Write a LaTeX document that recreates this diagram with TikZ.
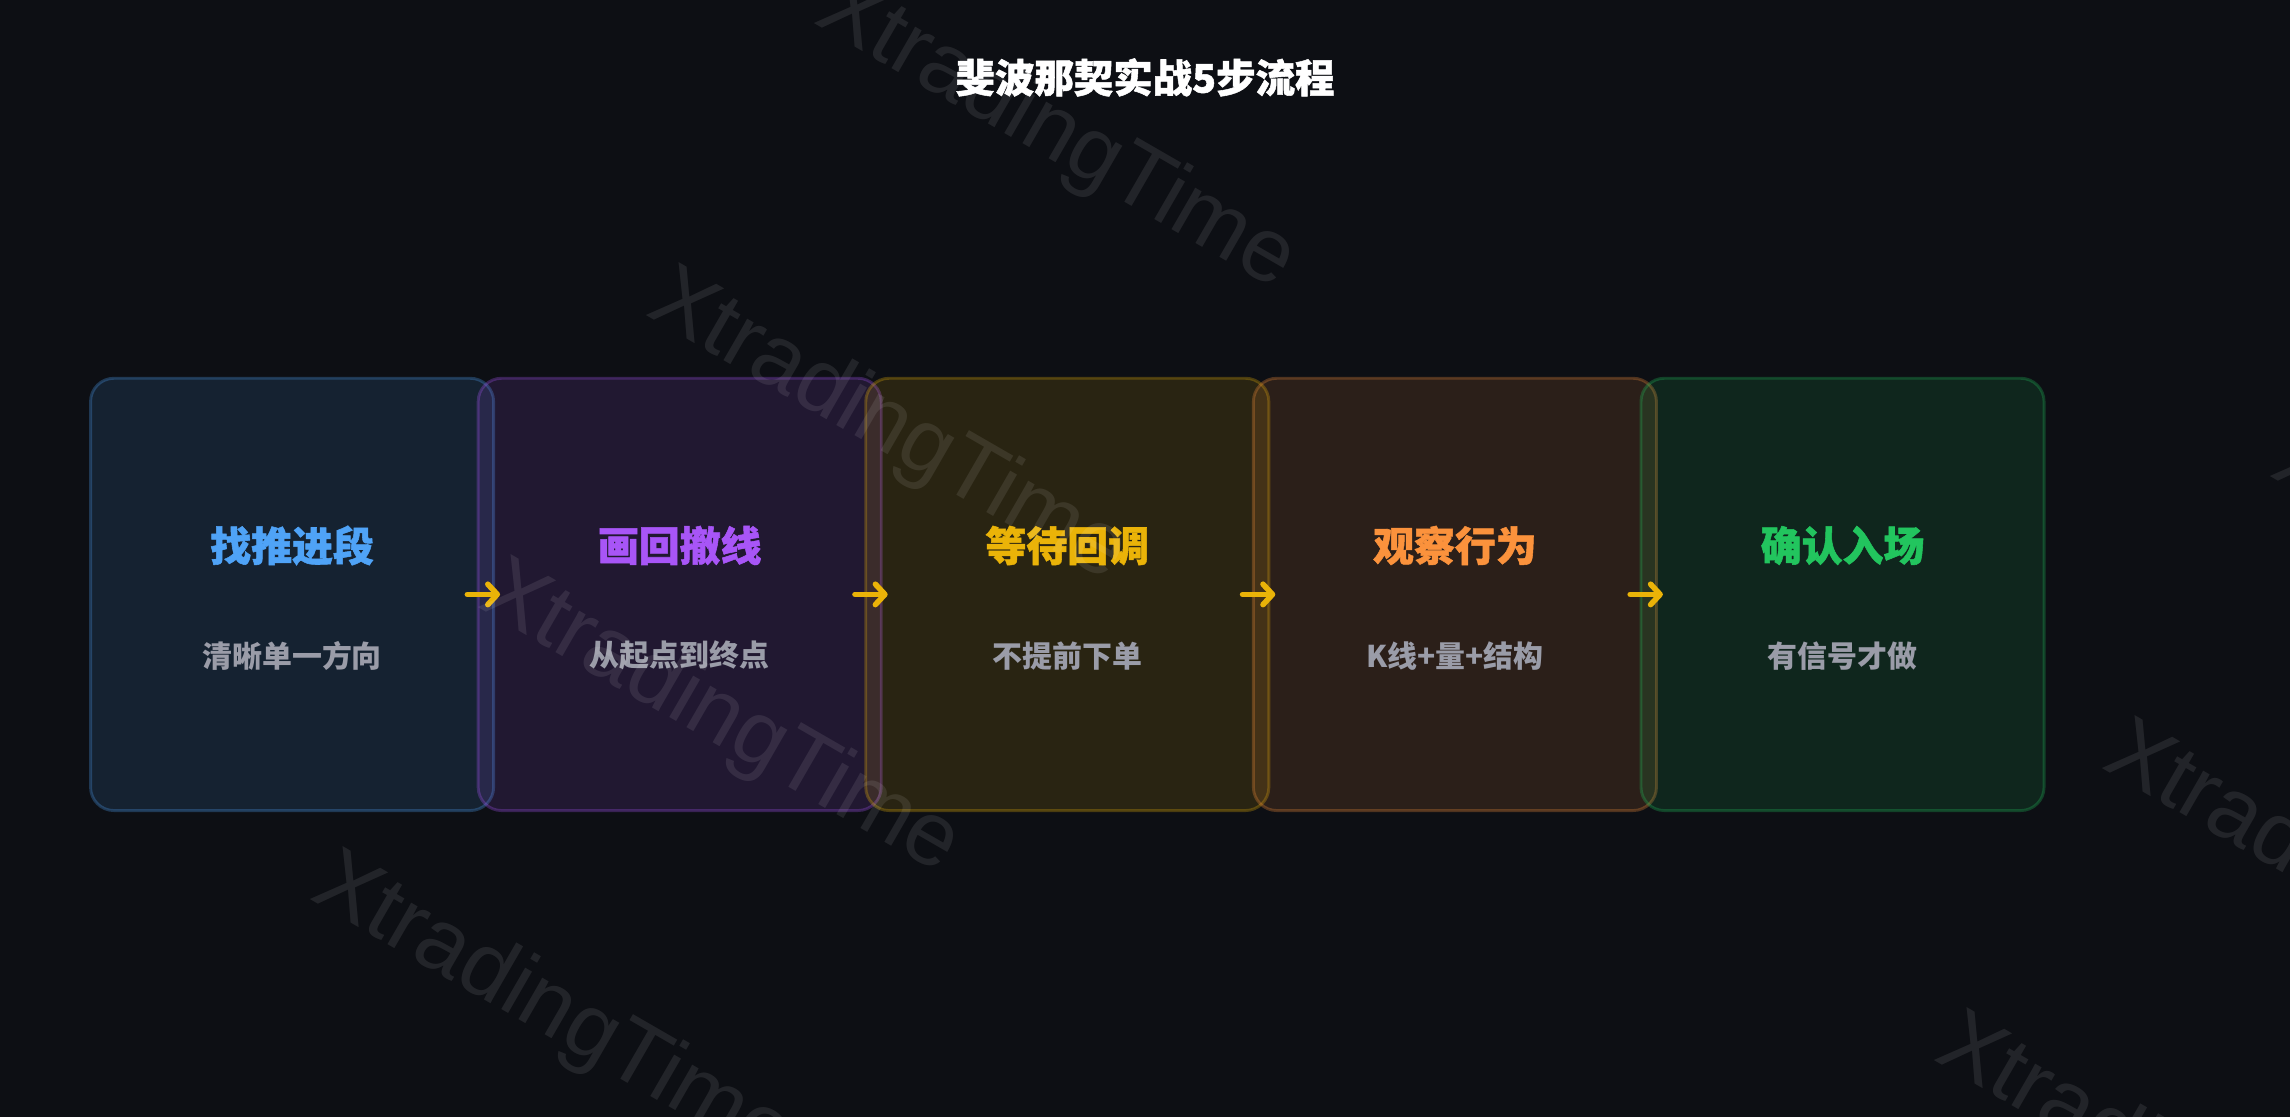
\documentclass[tikz,border=0pt]{standalone}
\usepackage{fontspec}
\newfontfamily\cjk{Noto Sans CJK SC}
\newfontfamily\cjkheavy{Noto Sans CJK SC}[BoldFeatures={FakeBold=1.3}]
\newfontfamily\wmfont{Liberation Sans}
\usetikzlibrary{arrows.meta}
\definecolor{bg}{HTML}{0D0F14}
\definecolor{cblue}{HTML}{4FA3F7}
\definecolor{cpurple}{HTML}{A855F7}
\definecolor{cyellow}{HTML}{EAB308}
\definecolor{corange}{HTML}{FB923C}
\definecolor{cgreen}{HTML}{22C55E}
\definecolor{csub}{HTML}{9A9CA8}
\definecolor{carrow}{HTML}{EAB308}
\begin{document}
\begin{tikzpicture}[x=1pt,y=-1pt,
  stepbox/.style={rectangle, rounded corners=16pt, minimum width=276pt, minimum height=296pt,
    line width=2pt, outer sep=0pt, fill opacity=0.13, draw opacity=0.28},
  steptitle/.style={font=\cjkheavy\bfseries\fontsize{28}{32}\selectfont, inner sep=0pt},
  stepsub/.style={font=\cjk\bfseries\fontsize{20.5}{24}\selectfont, text=csub, inner sep=0pt},
  flowarrow/.style={draw=carrow, line width=3.8pt, line cap=round,
    -{Straight Barb[round, length=6.5pt, width=14pt]}},
  watermark/.style={font=\wmfont\fontsize{62}{70}\selectfont, text=white, text opacity=0.09,
    rotate=-30, inner sep=0pt}
]
\useasboundingbox (0,0) rectangle (1568,765);
\fill[bg] (0,0) rectangle (1568,765);
\clip (0,0) rectangle (1568,765);

% title
\node[font=\cjkheavy\bfseries\fontsize{27}{32}\selectfont, text=white, inner sep=0pt] (title) at (784,53) {斐波那契实战5步流程};

% boxes
\node[stepbox, draw=cblue, fill=cblue] (b1) at (200,407) {};
\node[stepbox, draw=cpurple, fill=cpurple] (b2) at (465.4,407) {};
\node[stepbox, draw=cyellow, fill=cyellow] (b3) at (730.8,407) {};
\node[stepbox, draw=corange, fill=corange] (b4) at (996.2,407) {};
\node[stepbox, draw=cgreen, fill=cgreen] (b5) at (1261.6,407) {};

% titles
\node[steptitle, text=cblue] (t1) at (200,373.5) {找推进段};
\node[steptitle, text=cpurple] (t2) at (465.4,373.5) {画回撤线};
\node[steptitle, text=cyellow] (t3) at (730.8,373.5) {等待回调};
\node[steptitle, text=corange] (t4) at (996.2,373.5) {观察行为};
\node[steptitle, text=cgreen] (t5) at (1261.6,373.5) {确认入场};

% subtitles
\node[stepsub] (s1) at (200,449) {清晰单一方向};
\node[stepsub] (s2) at (465.4,449) {从起点到终点};
\node[stepsub] (s3) at (730.8,449) {不提前下单};
\node[stepsub] (s4) at (996.2,449) {K线+量+结构};
\node[stepsub] (s5) at (1261.6,449) {有信号才做};

% arrows
\draw[flowarrow] ([xshift=-18pt]b1.east) -- ([xshift=15pt]b2.west);
\draw[flowarrow] ([xshift=-18pt]b2.east) -- ([xshift=15pt]b3.west);
\draw[flowarrow] ([xshift=-18pt]b3.east) -- ([xshift=15pt]b4.west);
\draw[flowarrow] ([xshift=-18pt]b4.east) -- ([xshift=15pt]b5.west);

% watermarks
\node[watermark] (wa) at (723,93) {XtradingTime};
\node[watermark] (wb) at (608,293) {XtradingTime};
\node[watermark] (wc) at (493,493) {XtradingTime};
\node[watermark] (wd) at (378,693) {XtradingTime};
\node[watermark] (we) at (1720,403) {XtradingTime};
\node[watermark] (wf) at (1605,603) {XtradingTime};
\node[watermark] (wg) at (1490,803) {XtradingTime};
\end{tikzpicture}
\end{document}
